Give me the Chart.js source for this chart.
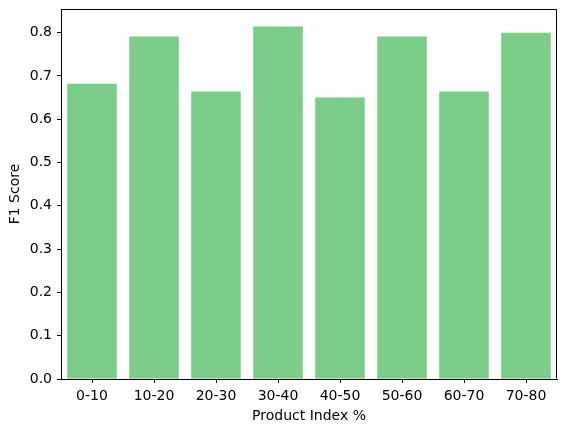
<!DOCTYPE html>
<html lang="en">
<head>
  <meta charset="UTF-8" />
  <title>F1 Score by Product Index</title>
  <script src="https://cdn.jsdelivr.net/npm/chart.js"></script>
  <style>
    body { margin: 0; background: white; }
    #wrap { width: 567px; height: 432px; }
  </style>
</head>
<body>
  <div id="wrap"><canvas id="grafico" width="567" height="432"></canvas></div>

  <script>
    const categories = ["0-10", "10-20", "20-30", "30-40", "40-50", "50-60", "60-70", "70-80"];
    const f1Scores = [0.682, 0.791, 0.664, 0.814, 0.650, 0.791, 0.664, 0.800];
    const yTicks = [0.0, 0.1, 0.2, 0.3, 0.4, 0.5, 0.6, 0.7, 0.8];

    const font = { family: "DejaVu Sans", size: 14 };

    // top and right spines, like matplotlib
    const frame = {
      id: "frame",
      afterDraw(chart) {
        const { ctx, chartArea: a } = chart;
        const l = Math.round(a.left) + 0.5, r = Math.round(a.right) - 0.5;
        const t = Math.round(a.top) + 0.5, b = Math.round(a.bottom) - 0.5;
        ctx.save();
        ctx.strokeStyle = "#000";
        ctx.lineWidth = 1;
        ctx.beginPath();
        ctx.moveTo(l, t);
        ctx.lineTo(r, t);
        ctx.lineTo(r, b);
        ctx.stroke();
        ctx.restore();
      }
    };

    new Chart(document.getElementById("grafico"), {
      type: "bar",
      data: {
        labels: categories,
        datasets: [{
          label: "F1 Score",
          data: f1Scores,
          backgroundColor: "rgb(124,204,137)",
          categoryPercentage: 0.8,
          barPercentage: 1.0
        }]
      },
      options: {
        responsive: false,
        animation: false,
        layout: { padding: { top: 9, right: 10, left: 0, bottom: 0 } },
        plugins: { legend: { display: false }, tooltip: { enabled: false } },
        scales: {
          x: {
            grid: { offset: false, drawOnChartArea: false, drawTicks: true, tickLength: 4, tickColor: "#000" },
            border: { display: true, color: "#000" },
            ticks: { color: "#000", font, padding: 5, maxRotation: 0 },
            title: { display: true, text: "Product Index %", color: "#000", font, padding: { top: 2, bottom: 7 } },
            afterFit(scale) { scale.height = 53; scale.paddingLeft = 0; scale.paddingRight = 0; }
          },
          y: {
            min: 0,
            max: 0.8547,
            afterBuildTicks(scale) { scale.ticks = yTicks.map(v => ({ value: v })); },
            grid: { drawOnChartArea: false, drawTicks: true, tickLength: 4, tickColor: "#000" },
            border: { display: true, color: "#000" },
            ticks: { color: "#000", font, padding: 5, callback: v => v.toFixed(1) },
            title: { display: true, text: "F1 Score", color: "#000", font, padding: { top: 7, bottom: 4 } },
            afterFit(scale) { scale.width = 61; scale.paddingTop = 0; scale.paddingBottom = 0; }
          }
        }
      },
      plugins: [frame]
    });
  </script>
</body>
</html>
